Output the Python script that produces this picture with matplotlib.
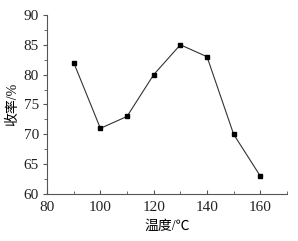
import matplotlib
matplotlib.use("Agg")
import matplotlib.pyplot as plt
from matplotlib.ticker import MultipleLocator

temps = [90, 100, 110, 120, 130, 140, 150, 160]
yields = [82, 71, 73, 80, 85, 83, 70, 63]

plt.rcParams['font.family'] = ['Liberation Serif', 'Noto Sans CJK SC']
plt.rcParams['text.color'] = '#222222'

fig = plt.figure(figsize=(2.98, 2.41), dpi=100)
ax = fig.add_axes([0.158, 0.195, 0.805, 0.743])

ax.plot(temps, yields, color="#333333", lw=0.8, marker="s", ms=3.5,
        mfc="black", mec="black")

ax.set_xlim(80, 170)
ax.set_ylim(60, 90)
ax.xaxis.set_major_locator(MultipleLocator(20))
ax.xaxis.set_minor_locator(MultipleLocator(10))
ax.yaxis.set_major_locator(MultipleLocator(5))
ax.yaxis.set_minor_locator(MultipleLocator(2.5))

for s in ("top", "right"):
    ax.spines[s].set_visible(False)
for s in ("left", "bottom"):
    ax.spines[s].set_color("#555555")
    ax.spines[s].set_linewidth(0.8)

ax.tick_params(axis="x", which="both", direction="in", color="#555555",
               labelcolor="#222222", labelsize=11, pad=5)
ax.tick_params(axis="y", which="both", direction="out", color="#555555",
               labelcolor="#222222", labelsize=11, pad=3)
ax.tick_params(which="major", length=3)
ax.tick_params(which="minor", length=2)

ax.set_xlabel("温度/℃", fontsize=10, labelpad=4)
ax.set_ylabel("收率/%", fontsize=10, labelpad=3)

fig.savefig("out.png", dpi=100)
